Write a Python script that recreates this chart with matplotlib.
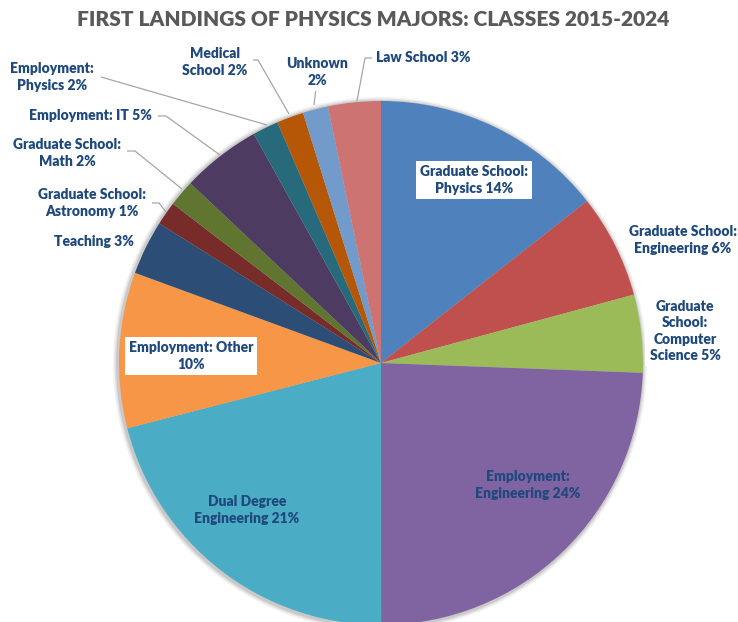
"""First landings of physics majors — pie chart recreation."""
import matplotlib
matplotlib.use("Agg")
import matplotlib.pyplot as plt
from matplotlib.patches import Circle

W, H = 738, 622

# slice order: clockwise from 12 o'clock
labels = [
    "Graduate School:\nPhysics {}%",
    "Graduate School:\nEngineering {}%",
    "Graduate\nSchool:\nComputer\nScience {}%",
    "Employment:\nEngineering {}%",
    "Dual Degree\nEngineering {}%",
    "Employment: Other\n{}%",
    "Teaching {}%",
    "Graduate School:\nAstronomy {}%",
    "Graduate School:\nMath {}%",
    "Employment: IT {}%",
    "Employment:\nPhysics {}%",
    "Medical\nSchool {}%",
    "Unknown\n{}%",
    "Law School {}%",
]
values = [14.4, 6.4, 4.8, 24.4, 21.0, 9.6, 3.35, 1.45, 1.64, 4.9, 1.6, 1.66, 1.56, 3.25]
colors = ["#4F81BD", "#C0504D", "#9BBB59", "#8064A2", "#4BACC6", "#F79646",
          "#2C4D75", "#772C2A", "#5F7530", "#4D3B62", "#276A7C", "#B65708",
          "#729ACA", "#CD7371"]

TEXT = "#1F497D"
FONT = "Lato"


def py(y):
    # pixel y (from top) -> data y
    return H - y


fig = plt.figure(figsize=(W / 100, H / 100), dpi=100)
ax = fig.add_axes([0, 0, 1, 1])

cx, cy, r = 381, py(363), 262

# soft shadow round the pie
for dr, a in [(5, 0.05), (3.5, 0.07), (2, 0.10)]:
    ax.add_patch(Circle((cx - 1, cy - 1), r + dr, color="black", alpha=a, lw=0, zorder=0))

ax.pie(values, colors=colors, startangle=90, counterclock=False,
       center=(cx, cy), radius=r, wedgeprops=dict(linewidth=0), frame=True)
ax.set_xlim(0, W)
ax.set_ylim(0, H)
ax.set_aspect("equal")
ax.axis("off")

total = sum(values)
texts = [lab.format(round(v / total * 100)) for lab, v in zip(labels, values)]

# (x, y) text centre in pixels, white box behind or not
pos = [
    (474, 180, True),
    (683, 240, True),
    (685, 331, True),
    (528, 485, False),
    (247, 510, False),
    (191, 356, True),
    (94, 242, True),
    (92, 203, True),
    (67, 153, True),
    (90, 116, True),
    (52, 77, True),
    (215, 62, True),
    (317, 72, True),
    (423, 58, True),
]
for t, (x, y, box) in zip(texts, pos):
    kw = dict(ha="center", va="center", color=TEXT, fontsize=10, fontweight="heavy",
              family=FONT, linespacing=1.3, zorder=5)
    if box:
        kw["bbox"] = dict(boxstyle="square,pad=0.3", facecolor="white", edgecolor="none")
    ax.text(x, py(y), t, **kw)

# leader lines (pixel coordinates)
leaders = [
    [(152, 203), (159, 203), (166, 212)],
    [(127, 151), (135, 151), (182, 189)],
    [(158, 116), (166, 116), (220, 155)],
    [(101, 77), (267, 125)],
    [(253, 60), (258, 60), (289, 114)],
    [(316, 88), (314, 105)],
    [(372, 58), (365, 58), (357, 101)],
]
for pts in leaders:
    ax.plot([p[0] for p in pts], [py(p[1]) for p in pts], color="#A6A6A6",
            lw=0.9, zorder=4, solid_capstyle="butt")

ax.text(W / 2 + 4, py(20), "FIRST LANDINGS OF PHYSICS MAJORS: CLASSES 2015-2024",
        ha="center", va="center", color="#595959", fontsize=15.0,
        fontweight="heavy", family=FONT)

fig.savefig("out.png", dpi=100)
